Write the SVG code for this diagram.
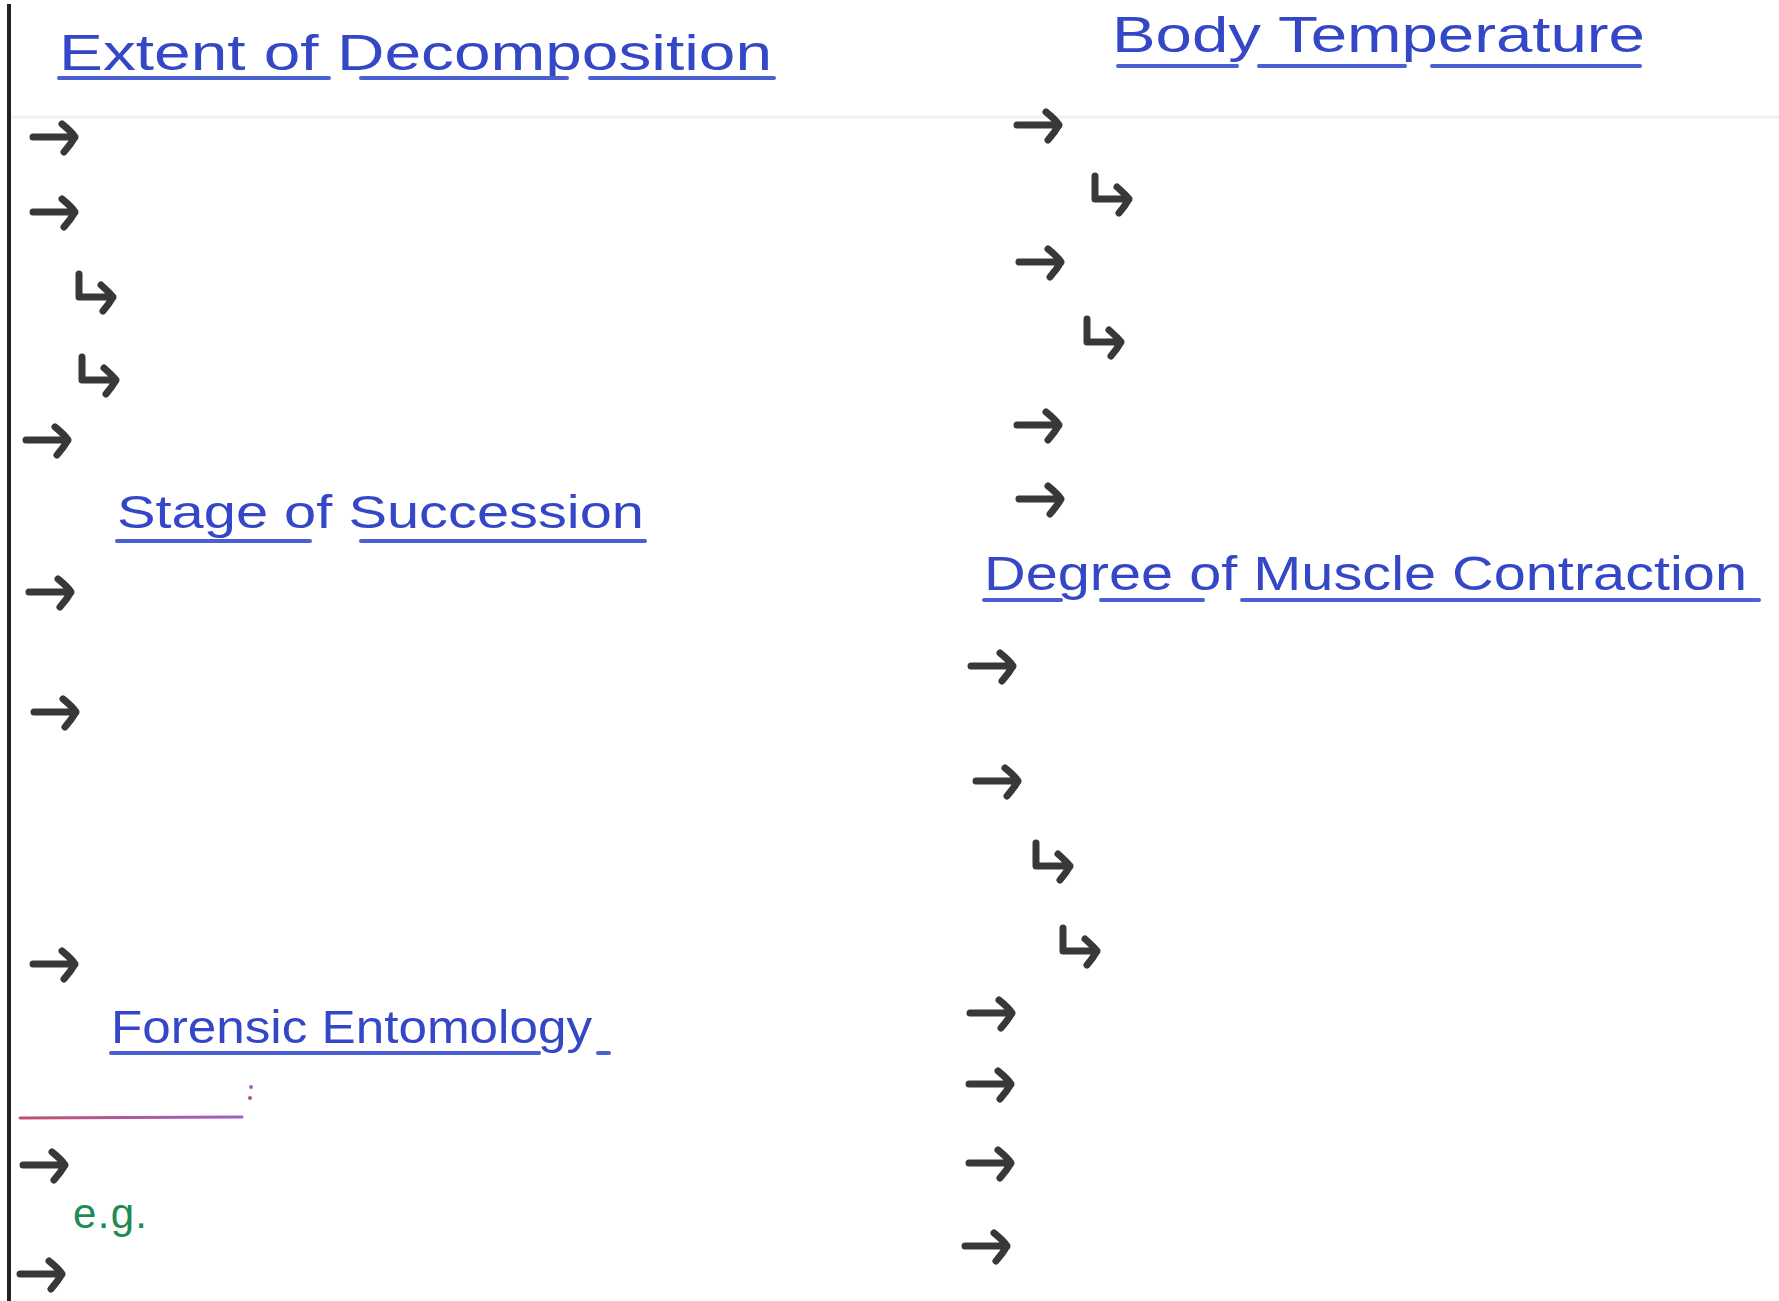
<svg xmlns="http://www.w3.org/2000/svg" xmlns:xlink="http://www.w3.org/1999/xlink" width="1779" height="1301" viewBox="0 0 1779 1301">
<style>
.ttl{font-family:"Liberation Sans","Noto Sans",sans-serif;fill:#3447c6;font-weight:normal}
.ul{stroke:#4a60d2;stroke-width:4;stroke-linecap:round;fill:none}
.arr{stroke:#383838;stroke-width:7;stroke-linecap:round;stroke-linejoin:round;fill:none}
</style>
<defs>
<g id="arr"><path class="arr" d="M-42,0 L0,0 M-13,-13 Q-3,-5 0,0 Q-4,7 -11,15"/></g>
<g id="hook"><path class="arr" d="M-34,-23 L-34,0 L0,0 M-12,-12 Q-3,-4 0,0 Q-4,7 -10,14"/></g>
<linearGradient id="pg" x1="0" x2="1" y1="0" y2="0"><stop offset="0" stop-color="#c05070"/><stop offset="1" stop-color="#a060c8"/></linearGradient>
</defs>
<rect width="1779" height="1301" fill="#ffffff"/>
<line x1="10" y1="117" x2="1779" y2="117" stroke="#eef2f2" stroke-width="3"/>
<line x1="9" y1="4" x2="9" y2="1301" stroke="#222" stroke-width="4"/>

<g id="extent-of-decomposition">
<text class="ttl" x="59" y="70" font-size="50" textLength="713" lengthAdjust="spacingAndGlyphs">Extent of Decomposition</text>
<path class="ul" d="M59,78 H329 M361,78 H567 M590,78 H774"/>
</g>
<g id="body-temperature">
<text class="ttl" x="1112" y="52" font-size="50" textLength="533" lengthAdjust="spacingAndGlyphs">Body Temperature</text>
<path class="ul" d="M1118,66 H1237 M1259,66 H1405 M1432,66 H1640"/>
</g>
<g id="stage-of-succession">
<text class="ttl" x="117" y="528" font-size="46" textLength="527" lengthAdjust="spacingAndGlyphs">Stage of Succession</text>
<path class="ul" d="M117,541 H310 M361,541 H645"/>
</g>
<g id="degree-of-muscle-contraction">
<text class="ttl" x="984" y="590" font-size="48" textLength="763" lengthAdjust="spacingAndGlyphs">Degree of Muscle Contraction</text>
<path class="ul" d="M984,600 H1061 M1101,600 H1203 M1242,600 H1759"/>
</g>
<g id="forensic-entomology">
<text class="ttl" x="111" y="1043" font-size="46" textLength="481" lengthAdjust="spacingAndGlyphs">Forensic Entomology</text>
<path class="ul" d="M111,1053 H539 M598,1053 H609"/>
</g>
<g id="pink-line">
<line x1="20" y1="1118" x2="242" y2="1117" stroke="url(#pg)" stroke-width="3" stroke-linecap="round"/>
<circle cx="251" cy="1087" r="2" fill="#a060c0"/>
<circle cx="250" cy="1098" r="2" fill="#c05070"/>
</g>
<g id="eg">
<text x="73" y="1228" font-family="Liberation Sans, sans-serif" font-size="42" fill="#1f8a55" textLength="74" lengthAdjust="spacing">e.g.</text>
</g>

<g id="connectors">
<use href="#arr" x="75" y="137"/>
<use href="#arr" x="75" y="212"/>
<use href="#hook" x="113" y="297"/>
<use href="#hook" x="116" y="380"/>
<use href="#arr" x="68" y="440"/>
<use href="#arr" x="71" y="592"/>
<use href="#arr" x="76" y="712"/>
<use href="#arr" x="75" y="964"/>
<use href="#arr" x="65" y="1165"/>
<use href="#arr" x="62" y="1274"/>

<use href="#arr" x="1059" y="125"/>
<use href="#hook" x="1129" y="199"/>
<use href="#arr" x="1061" y="262"/>
<use href="#hook" x="1121" y="342"/>
<use href="#arr" x="1059" y="425"/>
<use href="#arr" x="1061" y="499"/>
<use href="#arr" x="1013" y="666"/>
<use href="#arr" x="1018" y="781"/>
<use href="#hook" x="1070" y="866"/>
<use href="#hook" x="1097" y="951"/>
<use href="#arr" x="1012" y="1013"/>
<use href="#arr" x="1011" y="1084"/>
<use href="#arr" x="1011" y="1163"/>
<use href="#arr" x="1007" y="1246"/>
</g>
</svg>
